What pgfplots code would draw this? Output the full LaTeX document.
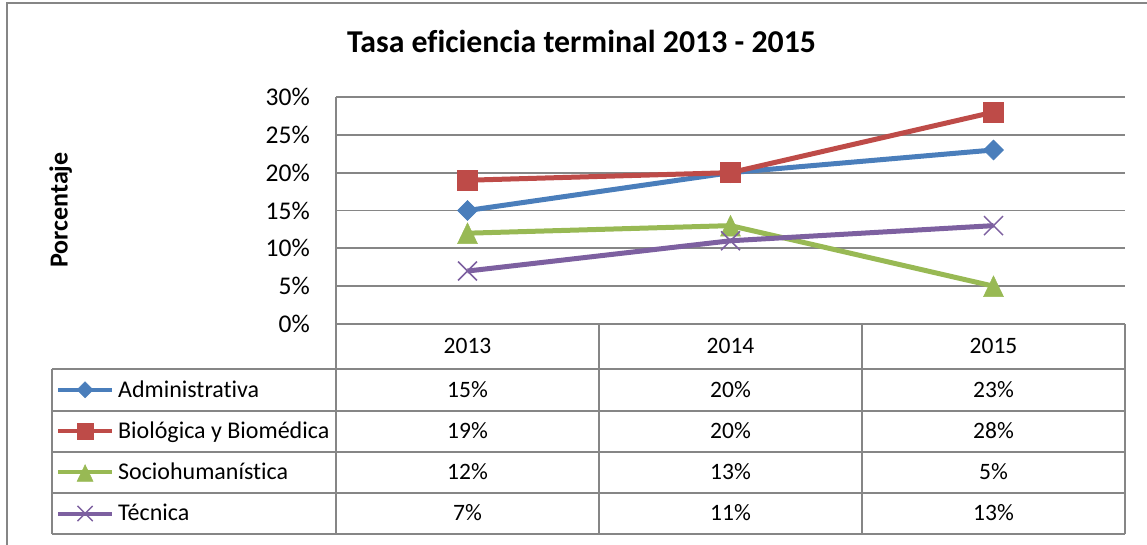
\documentclass[border=0pt]{standalone}
\usepackage{pgfplots}
\pgfplotsset{compat=1.18}
\usepackage{fontspec}
\setmainfont{Carlito}[Ligatures={NoCommon}]
\definecolor{cAdm}{RGB}{74,126,187}
\definecolor{cBio}{RGB}{190,75,72}
\definecolor{cSoc}{RGB}{152,185,84}
\definecolor{cTec}{RGB}{125,96,160}
\definecolor{gridgray}{RGB}{134,134,134}
\begin{document}
\begin{tikzpicture}[x=1pt,y=1pt]
\path[use as bounding box] (0,0) rectangle (1147,544);
\draw[gridgray, line width=2pt] (7,-5) -- (7,541) -- (1155,541);
\node[anchor=base, font=\bfseries\fontsize{31.8}{38}\selectfont] at (581.5,491) {Tasa eficiencia terminal 2013 - 2015};
\node[anchor=base, rotate=90, font=\bfseries\fontsize{26}{30}\selectfont] at (67.5,334) {Porcentaje};
\begin{axis}[
  at={(336pt,220pt)}, anchor=south west,
  scale only axis, width=789pt, height=227pt,
  xmin=-0.5, xmax=2.5, ymin=0, ymax=30,
  xtick=\empty,
  ytick={0,5,...,30},
  /pgf/number format/assume math mode=true,
  yticklabel={\pgfmathprintnumber{\tick}\%},
  yticklabel style={font=\fontsize{25.5}{30}\selectfont, anchor=east, inner sep=0pt, xshift=-26pt},
  major tick length=0pt,
  axis x line*=bottom, axis y line*=left,
  axis line style={draw=gridgray, line width=1.8pt, -},
  ymajorgrids, grid style={draw=gridgray, line width=1.8pt},
  clip=false,
  legend style={at={(axis description cs:-0.355,-0.198)}, anchor=north west, draw=none, fill=none, inner sep=0pt, row sep=0pt,
    font=\fontsize{24}{28}\selectfont,
    nodes={inner sep=0pt, text height=28pt, text depth=13.25pt},
    /tikz/every odd column/.append style={column sep=4pt}},
  legend cell align=left,
  legend image code/.code={\draw[mark repeat=2,mark phase=2,/tikz/every mark/.append style={scale=0.8},#1, line width=4pt] plot coordinates {(0pt,0pt)(27pt,0pt)(54pt,0pt)};},
]
\addplot[cAdm, line width=5pt, mark=square*, mark size=7.1pt, mark options={rotate=45, fill=cAdm, draw=cAdm, line width=0.5pt}] coordinates {(0,15)(1,20)(2,23)};
\addlegendentry{Administrativa}
\addplot[cBio, line width=5pt, mark=square*, mark size=10pt, mark options={fill=cBio, draw=cBio, line width=0.5pt}] coordinates {(0,19)(1,20)(2,28)};
\addlegendentry{Biológica y Biomédica}
\addplot[cSoc, line width=5pt, mark=triangle*, mark size=11.5pt, mark options={yshift=-3.5pt, yscale=1.2, fill=cSoc, draw=cSoc, line width=0.5pt}] coordinates {(0,12)(1,13)(2,5)};
\addlegendentry{Sociohumanística}
\addplot[cTec, line width=5pt, mark=x, mark size=13.4pt, mark options={line width=1.5pt}] coordinates {(0,7)(1,11)(2,13)};
\addlegendentry{Técnica}
\end{axis}
% data table grid
\begin{scope}[gridgray, line width=1.8pt]
\foreach \yy in {175,133,92,51,10} \draw (52,\yy) -- (1125,\yy);
\draw (52,175) -- (52,10);
\foreach \xx in {336,599,862,1125} \draw (\xx,220) -- (\xx,10);
\end{scope}
\begin{scope}[every node/.style={anchor=base, font=\fontsize{23.5}{28}\selectfont, inner sep=0pt}]
\node at (467.5,191) {2013};
\node at (730.5,191) {2014};
\node at (993.5,191) {2015};
\node at (467.5,147) {15\%}; \node at (730.5,147) {20\%}; \node at (993.5,147) {23\%};
\node at (467.5,105.5) {19\%}; \node at (730.5,105.5) {20\%}; \node at (993.5,105.5) {28\%};
\node at (467.5,64.5) {12\%}; \node at (730.5,64.5) {13\%}; \node at (993.5,64.5) {5\%};
\node at (467.5,23.5) {7\%}; \node at (730.5,23.5) {11\%}; \node at (993.5,23.5) {13\%};
\end{scope}
\end{tikzpicture}
\end{document}
